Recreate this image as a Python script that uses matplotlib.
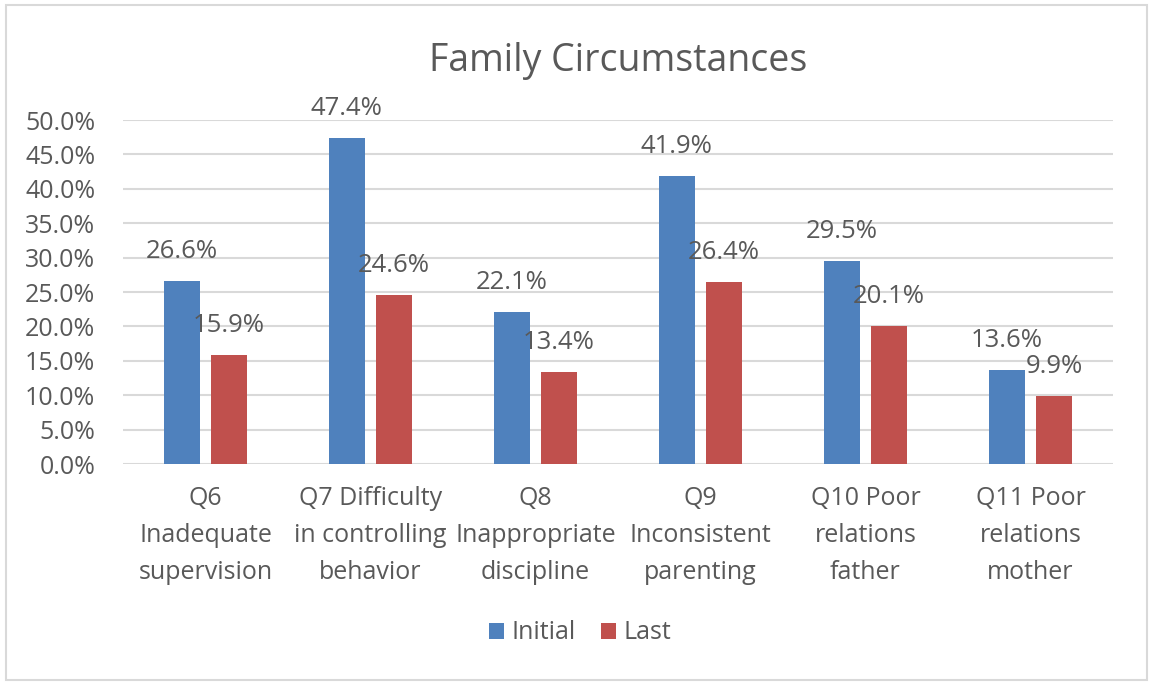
import numpy as np
import matplotlib
matplotlib.use("Agg")
from matplotlib import pyplot as plt
from matplotlib.patches import Rectangle

categories = ["Q6\nInadequate\nsupervision", "Q7 Difficulty\nin controlling\nbehavior",
              "Q8\nInappropriate\ndiscipline", "Q9\nInconsistent\nparenting",
              "Q10 Poor\nrelations\nfather", "Q11 Poor\nrelations\nmother"]
initial = [0.266, 0.474, 0.221, 0.419, 0.295, 0.136]
last = [0.159, 0.246, 0.134, 0.264, 0.201, 0.099]

grey = "#595959"
plt.rcParams["font.family"] = ["Open Sans", "DejaVu Sans"]

fig = plt.figure(figsize=(11.53, 6.85), dpi=100)
fig.patches.append(Rectangle((0.005, 0.007), 0.99, 0.986, transform=fig.transFigure,
                             fill=False, edgecolor="#d9d9d9", linewidth=1.5))
ax = fig.add_axes([0.1067, 0.3226, 0.8586, 0.5022])

x = np.arange(len(categories))
w = 0.22
off = 0.143
b1 = ax.bar(x - off, initial, w, color="#4F81BD", label="Initial", zorder=3)
b2 = ax.bar(x + off, last, w, color="#C0504D", label="Last", zorder=3)

for bars, vals in [(b1, initial), (b2, last)]:
    for rect, v in zip(bars, vals):
        ax.text(rect.get_x() + rect.get_width() / 2, v + 0.043, f"{v*100:.1f}%",
                ha="center", va="center", fontsize=18.5, color=grey, zorder=4)

ax.set_xlim(-0.5, len(categories) - 0.5)
ax.set_ylim(0, 0.5)
ax.set_yticks(np.arange(0, 0.51, 0.05))
ax.set_yticklabels([f"{t*100:.1f}%" for t in np.arange(0, 0.51, 0.05)])
ax.set_xticks(x)
ax.set_xticklabels(categories, linespacing=1.62)
ax.tick_params(axis="both", length=0, labelsize=18, colors=grey)
ax.tick_params(axis="x", pad=16)
ax.tick_params(axis="y", pad=20)
ax.grid(axis="y", color="#d9d9d9", linewidth=1.5, zorder=0)
for s in ax.spines.values():
    s.set_visible(False)

ax.set_title("Family Circumstances", fontsize=27, color=grey, pad=35)

fig.legend(handles=[b1, b2], loc="center", bbox_to_anchor=(0.503, 0.076), ncol=2,
           frameon=False, fontsize=18, labelcolor=grey, handlelength=0.6,
           handleheight=0.6, handletextpad=0.3, columnspacing=1.0)

fig.savefig("out.png", dpi=100)
